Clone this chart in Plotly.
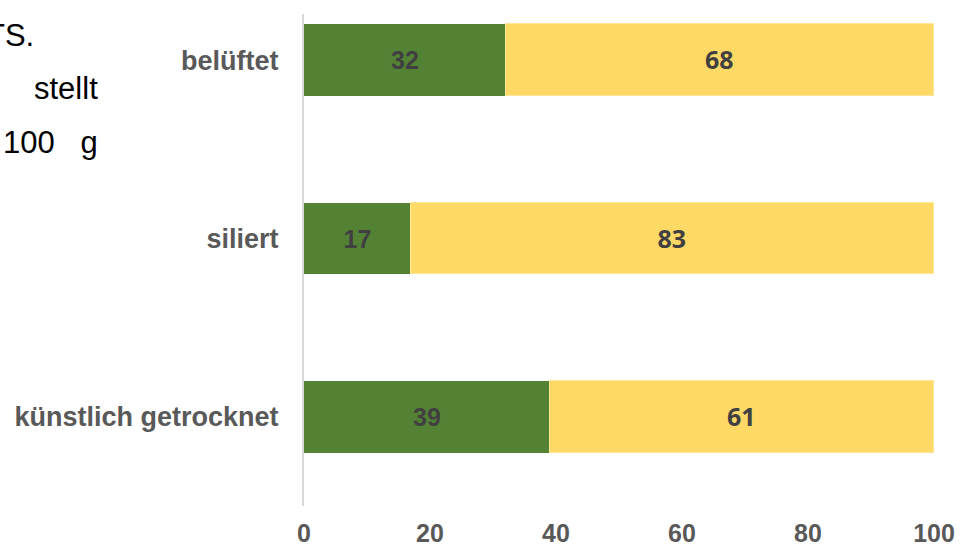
import plotly.graph_objects as go

categories = ["künstlich getrocknet", "siliert", "belüftet"]
green_vals = [39, 17, 32]
yellow_vals = [61, 83, 68]
x_ticks = [0, 20, 40, 60, 80, 100]

fig = go.Figure()
fig.add_trace(go.Bar(
    y=categories, x=green_vals, orientation="h",
    marker=dict(color="#548235", line=dict(width=0)),
    text=["<b>%d</b>" % v for v in green_vals], textposition="inside",
    insidetextanchor="middle", textangle=0,
    insidetextfont=dict(family="Liberation Sans", size=25, color="#404040"),
    width=0.403, showlegend=False,
))
fig.add_trace(go.Bar(
    y=categories, x=yellow_vals, orientation="h",
    marker=dict(color="#FFD966", line=dict(width=1.5, color="#FFE699")),
    text=["<b>%d</b>" % v for v in yellow_vals], textposition="inside",
    insidetextanchor="middle", textangle=0,
    insidetextfont=dict(family="Open Sans", size=25, color="#404040"),
    width=0.403, showlegend=False,
))

L, R, T, B = 304, 36, 14, 43
W = 970 - L - R
H = 549 - T - B

def px_x(px):
    return (px - L) / W

def px_y(py):
    return 1 - (py - T) / H

left_texts = [("TS.", -16, 35), ("stellt", 32, 88), ("100   g", 1, 142)]
annotations = []
for txt, x0, yc in left_texts:
    annotations.append(dict(
        text=txt, xref="paper", yref="paper", x=px_x(x0), y=px_y(yc),
        xanchor="left", yanchor="middle", showarrow=False,
        font=dict(family="Liberation Sans", size=31, color="#000000"),
    ))

fig.update_layout(
    barmode="stack",
    width=970, height=549,
    margin=dict(l=L, r=R, t=T, b=B, pad=0, autoexpand=False),
    paper_bgcolor="white", plot_bgcolor="white",
    bargap=0,
    annotations=annotations,
    xaxis=dict(
        range=[0, 100], tickvals=x_ticks, ticktext=["<b>%d</b>" % v for v in x_ticks],
        showgrid=False, zeroline=False, showline=False, ticks="", automargin=False,
        tickfont=dict(family="Liberation Sans", size=25, color="#595959"),
        ticklabelstandoff=10,
    ),
    yaxis=dict(
        range=[-0.4986, 2.258],
        tickvals=categories, ticktext=["<b>%s</b>" % c for c in categories],
        showgrid=False, zeroline=False, showline=True, linecolor="#D9D9D9", linewidth=2,
        ticks="", automargin=False,
        tickfont=dict(family="Liberation Sans", size=27, color="#595959"),
        ticklabelstandoff=18,
    ),
)

fig.write_html("out.html")
